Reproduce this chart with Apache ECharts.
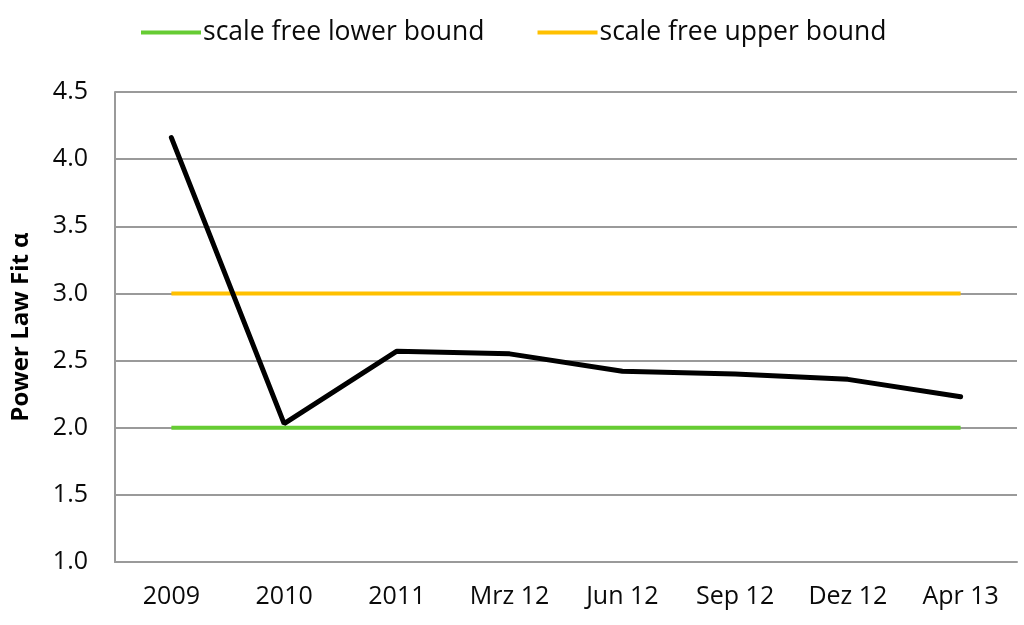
<!DOCTYPE html>
<html>
<head>
<meta charset="utf-8">
<script src="https://cdn.jsdelivr.net/npm/echarts@6/dist/echarts.min.js"></script>
<style>
  html, body { margin: 0; padding: 0; background: #fff; }
  #chart { width: 1024px; height: 625px; }
</style>
</head>
<body>
<div id="chart"></div>
<script>
const categories = ['2009', '2010', '2011', 'Mrz 12', 'Jun 12', 'Sep 12', 'Dez 12', 'Apr 13'];
const alphaFit = [4.16, 2.03, 2.57, 2.55, 2.42, 2.40, 2.36, 2.23];
const lowerBound = [2, 2, 2, 2, 2, 2, 2, 2];
const upperBound = [3, 3, 3, 3, 3, 3, 3, 3];

const font = 'Open Sans';
const chart = echarts.init(document.getElementById('chart'));
chart.setOption({
    animation: false,
    textStyle: { fontFamily: font },
    legend: {
        top: 14,
        left: 136,
        itemGap: 53,
        itemWidth: 60,
        itemHeight: 4,
        icon: 'rect',
        data: ['scale free lower bound', 'scale free upper bound'],
        textStyle: { fontSize: 26.5, color: '#0a0a0a', padding: [0, 0, 0, -3] }
    },
    grid: { left: 115, right: 7, top: 92, bottom: 63 },
    xAxis: {
        type: 'category',
        data: categories,
        boundaryGap: true,
        axisLine: { lineStyle: { color: '#9a9a9a', width: 2 } },
        axisTick: { show: false },
        axisLabel: { fontSize: 25, color: '#0a0a0a', margin: 22 }
    },
    yAxis: {
        type: 'value',
        min: 1,
        max: 4.5,
        interval: 0.5,
        name: 'Power Law Fit α',
        nameLocation: 'middle',
        nameGap: 82,
        nameTextStyle: { fontSize: 24, fontWeight: 'bold', color: '#000' },
        axisLine: { show: true, lineStyle: { color: '#9a9a9a', width: 2 } },
        axisTick: { show: false },
        splitLine: { lineStyle: { color: '#9a9a9a', width: 2 } },
        axisLabel: { fontSize: 25, color: '#0a0a0a', margin: 27, formatter: v => v.toFixed(1) }
    },
    series: [
        {
            name: 'alpha',
            type: 'line',
            data: alphaFit,
            symbol: 'none',
            lineStyle: { color: '#000', width: 5, cap: 'round' },
            z: 5
        },
        {
            name: 'scale free lower bound',
            type: 'line',
            data: lowerBound,
            symbol: 'none',
            itemStyle: { color: '#66cc33' },
            lineStyle: { color: '#66cc33', width: 4 },
            z: 3
        },
        {
            name: 'scale free upper bound',
            type: 'line',
            data: upperBound,
            symbol: 'none',
            itemStyle: { color: '#ffc000' },
            lineStyle: { color: '#ffc000', width: 4 },
            z: 3
        }
    ]
});
</script>
</body>
</html>
